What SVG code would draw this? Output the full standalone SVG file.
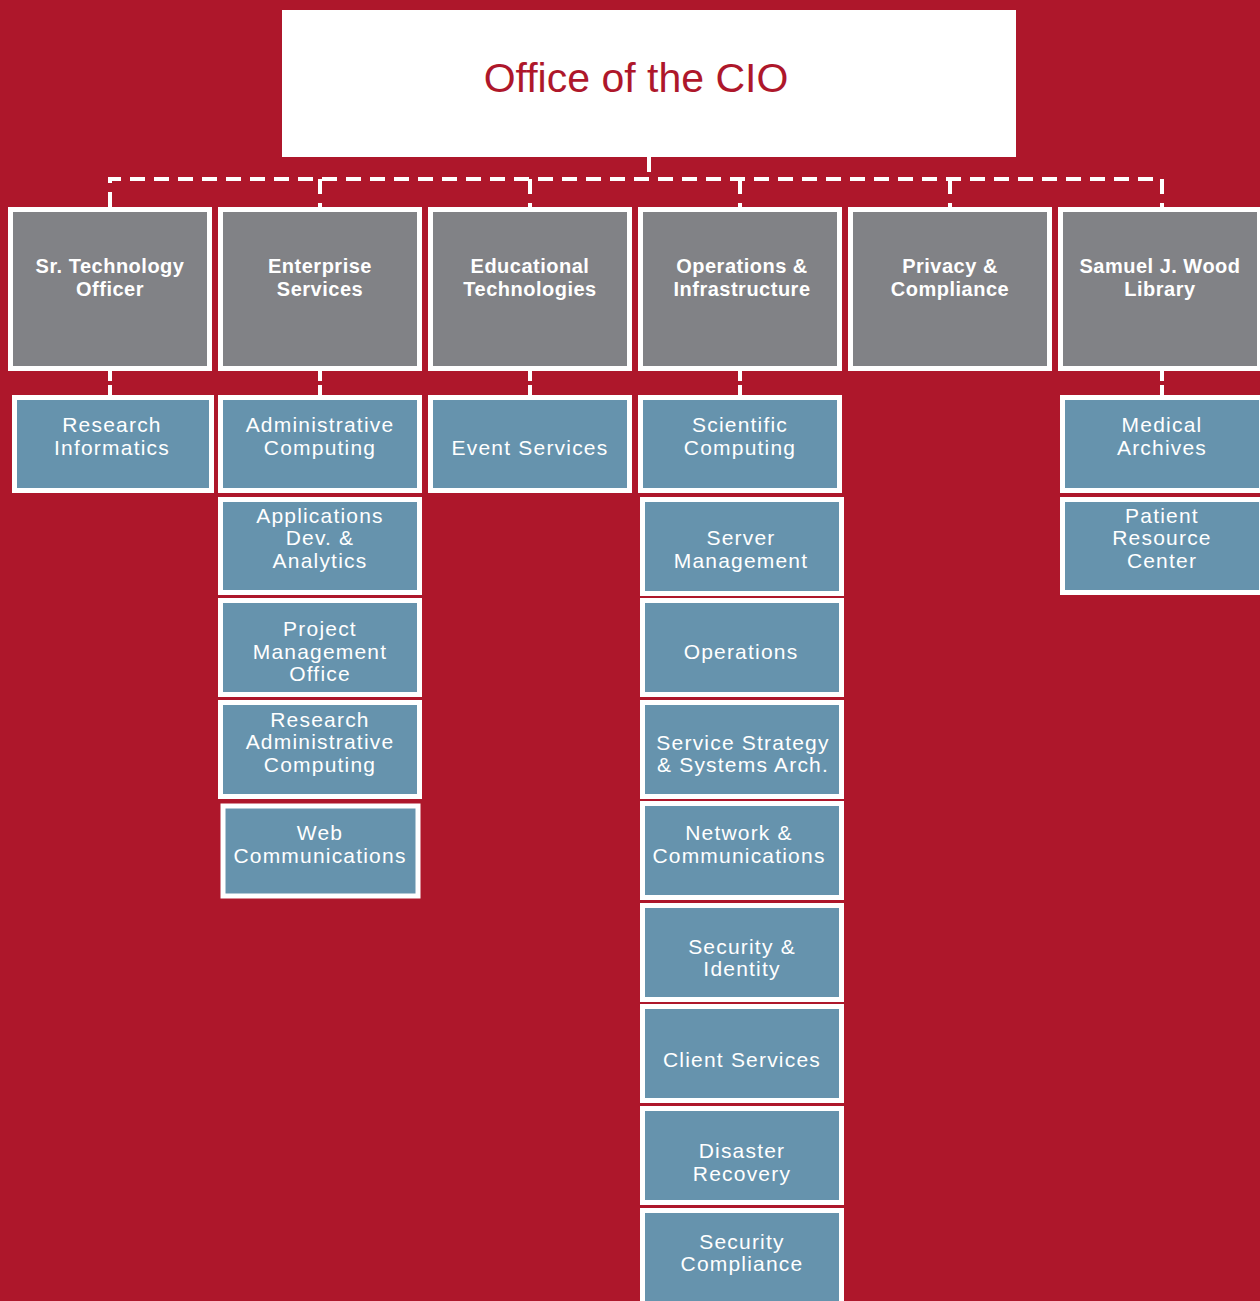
<svg xmlns="http://www.w3.org/2000/svg" width="1260" height="1301" viewBox="0 0 1260 1301">
<style>
.bg{fill:#AE172B}
.gray{fill:#818286;stroke:#FFFFFF;stroke-width:5}
.blue{fill:#6693AD;stroke:#FFFFFF;stroke-width:5}
.gt{font-family:"Liberation Sans",Arial,sans-serif;font-weight:bold;font-size:20px;letter-spacing:0.5px;fill:#FFFFFF;text-anchor:middle}
.bt{font-family:"Liberation Sans",Arial,sans-serif;font-size:21px;letter-spacing:1.2px;fill:#FFFFFF;text-anchor:middle}
.conn{fill:none;stroke:#FFFFFF;stroke-width:4;stroke-dasharray:15 9}
.conn2{fill:none;stroke:#FFFFFF;stroke-width:4;stroke-dasharray:10 4}
</style>
<rect class="bg" x="0" y="0" width="1260" height="1301"/>
<g id="cio">
<rect x="282" y="10" width="734" height="147" fill="#FFFFFF"/>
<text x="636" y="92" font-family="Liberation Sans,Arial,sans-serif" font-size="41" fill="#AE172B" text-anchor="middle">Office of the CIO</text>
</g>
<g id="connectors">
<path class="conn" d="M649,157 V179"/>
<path class="conn" d="M110,207 V179 H1162 V207"/>
<path class="conn" d="M320,179 V207 M530,179 V207 M740,179 V207 M950,179 V207"/>
<path class="conn2" d="M110,371 V395 M320,371 V395 M530,371 V395 M740,371 V395 M1162,371 V395"/>
</g>
<g id="sr-tech"><rect class="gray" x="10.5" y="209.5" width="199" height="159"/><text class="gt"><tspan x="110" y="273">Sr. Technology</tspan><tspan x="110" y="296">Officer</tspan></text></g>
<g id="enterprise"><rect class="gray" x="220.5" y="209.5" width="199" height="159"/><text class="gt"><tspan x="320" y="273">Enterprise</tspan><tspan x="320" y="296">Services</tspan></text></g>
<g id="edtech"><rect class="gray" x="430.5" y="209.5" width="199" height="159"/><text class="gt"><tspan x="530" y="273">Educational</tspan><tspan x="530" y="296">Technologies</tspan></text></g>
<g id="ops-infra"><rect class="gray" x="640.5" y="209.5" width="199" height="159"/><text class="gt"><tspan x="742" y="273">Operations &amp;</tspan><tspan x="742" y="296">Infrastructure</tspan></text></g>
<g id="privacy"><rect class="gray" x="850.5" y="209.5" width="199" height="159"/><text class="gt"><tspan x="950" y="273">Privacy &amp;</tspan><tspan x="950" y="296">Compliance</tspan></text></g>
<g id="library"><rect class="gray" x="1060.5" y="209.5" width="199" height="159"/><text class="gt"><tspan x="1160" y="273">Samuel J. Wood</tspan><tspan x="1160" y="296">Library</tspan></text></g>

<g id="research-informatics"><rect class="blue" x="14.5" y="397.5" width="197" height="93"/><text class="bt"><tspan x="112" y="432">Research</tspan><tspan x="112" y="455">Informatics</tspan></text></g>
<g id="admin-computing"><rect class="blue" x="220.5" y="397.5" width="199" height="93"/><text class="bt"><tspan x="320" y="432">Administrative</tspan><tspan x="320" y="455">Computing</tspan></text></g>
<g id="app-dev"><rect class="blue" x="220.5" y="499.5" width="199" height="93"/><text class="bt"><tspan x="320" y="523">Applications</tspan><tspan x="320" y="545">Dev. &amp;</tspan><tspan x="320" y="568">Analytics</tspan></text></g>
<g id="pmo"><rect class="blue" x="220.5" y="600.5" width="199" height="94"/><text class="bt"><tspan x="320" y="636">Project</tspan><tspan x="320" y="659">Management</tspan><tspan x="320" y="681">Office</tspan></text></g>
<g id="research-admin"><rect class="blue" x="220.5" y="702.5" width="199" height="94"/><text class="bt"><tspan x="320" y="727">Research</tspan><tspan x="320" y="749">Administrative</tspan><tspan x="320" y="772">Computing</tspan></text></g>
<g id="web-comm"><rect class="blue" x="223" y="806" width="195" height="90" stroke-width="6"/><text class="bt"><tspan x="320" y="840">Web</tspan><tspan x="320" y="863">Communications</tspan></text></g>
<g id="event-services"><rect class="blue" x="430.5" y="397.5" width="199" height="93"/><text class="bt"><tspan x="530" y="455">Event Services</tspan></text></g>
<g id="scientific-computing"><rect class="blue" x="640.5" y="397.5" width="199" height="93"/><text class="bt"><tspan x="740" y="432">Scientific</tspan><tspan x="740" y="455">Computing</tspan></text></g>
<g id="server-mgmt"><rect class="blue" x="642.5" y="499.5" width="199" height="94"/><text class="bt"><tspan x="741" y="545">Server</tspan><tspan x="741" y="568">Management</tspan></text></g>
<g id="operations"><rect class="blue" x="642.5" y="600.5" width="199" height="94"/><text class="bt"><tspan x="741" y="659">Operations</tspan></text></g>
<g id="service-strategy"><rect class="blue" x="642.5" y="702.5" width="199" height="94"/><text class="bt"><tspan x="743" y="750">Service Strategy</tspan><tspan x="743" y="772">&amp; Systems Arch.</tspan></text></g>
<g id="network"><rect class="blue" x="642.5" y="803.5" width="199" height="94"/><text class="bt"><tspan x="739" y="840">Network &amp;</tspan><tspan x="739" y="863">Communications</tspan></text></g>
<g id="security-identity"><rect class="blue" x="642.5" y="905.5" width="199" height="94"/><text class="bt"><tspan x="742" y="954">Security &amp;</tspan><tspan x="742" y="976">Identity</tspan></text></g>
<g id="client-services"><rect class="blue" x="642.5" y="1006.5" width="199" height="94"/><text class="bt"><tspan x="742" y="1067">Client Services</tspan></text></g>
<g id="disaster-recovery"><rect class="blue" x="642.5" y="1108.5" width="199" height="94"/><text class="bt"><tspan x="742" y="1158">Disaster</tspan><tspan x="742" y="1181">Recovery</tspan></text></g>
<g id="security-compliance"><rect class="blue" x="642.5" y="1210.5" width="199" height="100"/><text class="bt"><tspan x="742" y="1249">Security</tspan><tspan x="742" y="1271">Compliance</tspan></text></g>
<g id="medical-archives"><rect class="blue" x="1062.5" y="397.5" width="199" height="93"/><text class="bt"><tspan x="1162" y="432">Medical</tspan><tspan x="1162" y="455">Archives</tspan></text></g>
<g id="patient-resource"><rect class="blue" x="1062.5" y="499.5" width="199" height="93"/><text class="bt"><tspan x="1162" y="523">Patient</tspan><tspan x="1162" y="545">Resource</tspan><tspan x="1162" y="568">Center</tspan></text></g>
</svg>
